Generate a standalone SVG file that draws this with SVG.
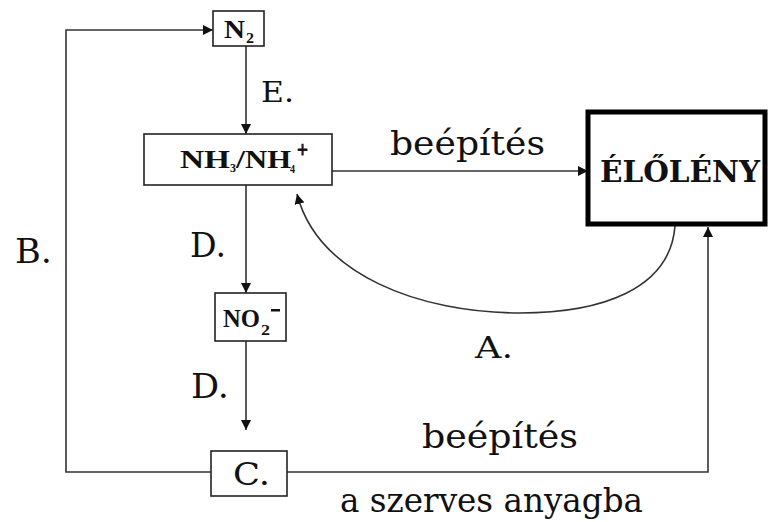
<svg xmlns="http://www.w3.org/2000/svg" width="771" height="522" viewBox="0 0 771 522">
<defs>
<marker id="ah" viewBox="0 0 10 10" refX="10" refY="5" markerWidth="10" markerHeight="10" markerUnits="userSpaceOnUse" orient="auto">
<path d="M0,0 L10,5 L0,10 Z" fill="#111"/>
</marker>
</defs>
<style>
.box{fill:#fff;stroke:#222;stroke-width:1.6}
.big{fill:#fff;stroke:#000;stroke-width:5}
.ln{fill:none;stroke:#333;stroke-width:1.6}
.lbl{font-family:"DejaVu Serif","Liberation Serif",serif;fill:#111}
.chem{font-family:"Liberation Serif","DejaVu Serif",serif;font-weight:bold;fill:#111}
</style>
<rect width="771" height="522" fill="#fff"/>
<g id="connectors">
<path class="ln" d="M211,472 H66 V30 H213" marker-end="url(#ah)"/>
<path class="ln" d="M246,46 V134" marker-end="url(#ah)"/>
<path class="ln" d="M246,185 V293" marker-end="url(#ah)"/>
<path class="ln" d="M246,341 V430" marker-end="url(#ah)"/>
<path class="ln" d="M332,171 H588" marker-end="url(#ah)"/>
<path class="ln" d="M287,472 H708 V227" marker-end="url(#ah)"/>
<path class="ln" d="M675,226 C670,290 600,313 520,313 C420,313 318,275 297,194" marker-end="url(#ah)"/>
</g>
<g id="n2">
<rect class="box" x="213" y="11" width="51" height="35"/>
<text class="chem" x="224" y="38" font-size="25" textLength="21" lengthAdjust="spacingAndGlyphs">N</text>
<text class="chem" x="246" y="43" font-size="14" textLength="8" lengthAdjust="spacingAndGlyphs">2</text>
</g>
<g id="nh3">
<rect class="box" x="144" y="134" width="188" height="51"/>
<text class="chem" x="180" y="168" font-size="25" textLength="50" lengthAdjust="spacingAndGlyphs">NH</text>
<text class="chem" x="230" y="172" font-size="13" textLength="6" lengthAdjust="spacingAndGlyphs">3</text>
<text class="chem" x="236" y="168" font-size="25" textLength="9" lengthAdjust="spacingAndGlyphs">/</text>
<text class="chem" x="245" y="168" font-size="25" textLength="46" lengthAdjust="spacingAndGlyphs">NH</text>
<text class="chem" x="290" y="173" font-size="13" textLength="5" lengthAdjust="spacingAndGlyphs">4</text>
<text class="chem" x="297" y="157" font-size="24" stroke="#111" stroke-width="0.8" textLength="11" lengthAdjust="spacingAndGlyphs">+</text>
</g>
<g id="no2">
<rect class="box" x="215" y="293" width="71" height="48"/>
<text class="chem" x="223" y="327" font-size="26" textLength="37" lengthAdjust="spacingAndGlyphs">NO</text>
<text class="chem" x="261" y="335" font-size="14" textLength="9" lengthAdjust="spacingAndGlyphs">2</text>
<rect x="271" y="309" width="9" height="2.5" fill="#111"/>
</g>
<g id="eloleny">
<rect class="big" x="588" y="112" width="177" height="112"/>
<text class="chem" style="font-family:'DejaVu Serif','Liberation Serif',serif" x="600" y="182" font-size="30" textLength="160" lengthAdjust="spacingAndGlyphs">ÉLŐLÉNY</text>
</g>
<g id="c">
<rect class="box" x="211" y="451" width="76" height="45"/>
<text class="lbl" x="233" y="485" font-size="31" textLength="37" lengthAdjust="spacingAndGlyphs">C.</text>
</g>
<g id="labels">
<text class="lbl" x="261" y="102" font-size="27" textLength="33" lengthAdjust="spacingAndGlyphs">E.</text>
<text class="lbl" x="390" y="155" font-size="33" textLength="155" lengthAdjust="spacingAndGlyphs">beépítés</text>
<text class="lbl" x="190" y="257" font-size="34" textLength="36" lengthAdjust="spacingAndGlyphs">D.</text>
<text class="lbl" x="15" y="263" font-size="34" textLength="37" lengthAdjust="spacingAndGlyphs">B.</text>
<text class="lbl" x="475" y="358" font-size="30" textLength="38" lengthAdjust="spacingAndGlyphs">A.</text>
<text class="lbl" x="191" y="398" font-size="34" textLength="38" lengthAdjust="spacingAndGlyphs">D.</text>
<text class="lbl" x="422" y="448" font-size="33" textLength="156" lengthAdjust="spacingAndGlyphs">beépítés</text>
<text class="lbl" x="340" y="512" font-size="33" textLength="303" lengthAdjust="spacingAndGlyphs">a szerves anyagba</text>
</g>
</svg>
